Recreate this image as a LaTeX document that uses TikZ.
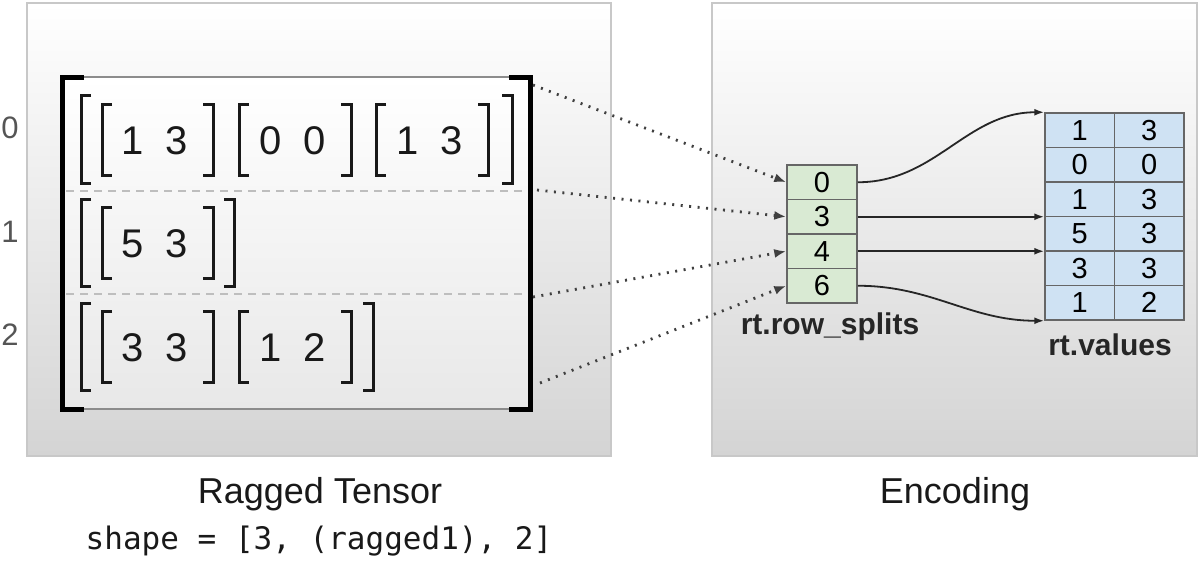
\documentclass[tikz,border=0pt]{standalone}
\usepackage{fontspec}
\setmainfont{Liberation Sans}
\newfontfamily\codefont{DejaVu Sans Mono}
\usetikzlibrary{arrows.meta,calc}
\definecolor{panelborder}{HTML}{C8C8C8}
\definecolor{panelbot}{HTML}{D4D4D4}
\definecolor{innerbot}{HTML}{E8E8E8}
\definecolor{splitfill}{HTML}{D9EAD3}
\definecolor{valfill}{HTML}{CFE2F3}
\definecolor{cellborder}{HTML}{666666}
\definecolor{dashgray}{HTML}{BEBEBE}
\definecolor{labelgray}{HTML}{555555}
\newcommand{\opbr}[3]{\draw[brk] ({#1+10},#2) -- (#1,#2) -- (#1,#3) -- ({#1+10},#3);}
\newcommand{\clbr}[3]{\draw[brk] ({#1-10},#2) -- (#1,#2) -- (#1,#3) -- ({#1-10},#3);}
\begin{document}
\begin{tikzpicture}[x=1pt,y=-1pt,
  panel/.style={draw=panelborder, line width=1.5pt, top color=white, bottom color=panelbot},
  brk/.style={line width=3pt, black!90, line join=miter},
  bigbrk/.style={line width=5pt, black, line join=miter},
  digit/.style={font=\fontsize{40}{42}\selectfont, inner sep=0pt, text=black!90},
  rowlabel/.style={font=\fontsize{31}{33}\selectfont, text=labelgray, inner sep=0pt},
  splitcell/.style={draw=cellborder, line width=1.5pt, fill=splitfill, minimum width=70pt, minimum height=34.5pt, inner sep=0pt, font=\fontsize{29}{30}\selectfont},
  valcell/.style={draw=cellborder, line width=1.5pt, fill=valfill, minimum width=69.5pt, minimum height=34.5pt, inner sep=0pt, font=\fontsize{29}{30}\selectfont},
  dotarrow/.style={draw=black!75, line width=2.8pt, dash pattern=on 2pt off 6.5pt, -{Latex[length=12pt,width=9pt]}},
  solidarrow/.style={draw=black!85, line width=1.8pt, -{Latex[length=10pt,width=7pt]}},
  caption/.style={font=\fontsize{36}{38}\selectfont, text=black!90, inner sep=0pt},
  boldlabel/.style={font=\bfseries\fontsize{30}{32}\selectfont, text=black!85, inner sep=0pt}
]
\useasboundingbox (0,0) rectangle (1200,560);
% panels
\path[panel] (27,3) rectangle (611,456);
\path[panel] (712,3) rectangle (1197,456);
% tensor region
\path[top color=white, bottom color=innerbot] (62,77) rectangle (530,409);
\draw[black!45, line width=1.5pt] (82,77) -- (511,77);
\draw[black!45, line width=1.5pt] (82,409) -- (511,409);
\draw[bigbrk] (84,77) -- (62,77) -- (62,409) -- (84,409);
\draw[bigbrk] (509,77) -- (530,77) -- (530,409) -- (509,409);
% row dividers
\draw[dashgray, line width=2.2pt, dash pattern=on 8pt off 6pt] (66,191) -- (527,191);
\draw[dashgray, line width=2.2pt, dash pattern=on 8pt off 6pt] (66,294) -- (527,294);
% row labels
\node[rowlabel] (r0) at (10,128) {0};
\node[rowlabel] (r1) at (10,232) {1};
\node[rowlabel] (r2) at (10,335) {2};
% row 0
\opbr{81}{95}{183}
\opbr{102}{104}{175} \clbr{213}{104}{175}
\opbr{239}{104}{175} \clbr{351}{104}{175}
\opbr{376}{104}{175} \clbr{488}{104}{175}
\clbr{512}{95}{183}
\node[digit] (a1) at (133,141) {1};
\node[digit] (a2) at (177,141) {3};
\node[digit] (a3) at (271,141) {0};
\node[digit] (a4) at (315,141) {0};
\node[digit] (a5) at (408,141) {1};
\node[digit] (a6) at (452,141) {3};
% row 1
\opbr{81}{199}{286}
\opbr{102}{207}{278} \clbr{213}{207}{278}
\clbr{234}{199}{286}
\node[digit] (b1) at (133,244) {5};
\node[digit] (b2) at (177,244) {3};
% row 2
\opbr{81}{303}{390}
\opbr{102}{311}{382} \clbr{213}{311}{382}
\opbr{239}{311}{382} \clbr{351}{311}{382}
\clbr{373}{303}{390}
\node[digit] (c1) at (133,348) {3};
\node[digit] (c2) at (177,348) {3};
\node[digit] (c3) at (271,348) {1};
\node[digit] (c4) at (315,348) {2};
% row splits
\node[splitcell] (s0) at (822,182.25) {0};
\node[splitcell] (s1) at (822,216.75) {3};
\node[splitcell] (s2) at (822,251.25) {4};
\node[splitcell] (s3) at (822,285.75) {6};
\node[boldlabel] (lsplits) at (830,327) {rt.row\_splits};
% values
\foreach \r/\a/\b in {0/1/3,1/0/0,2/1/3,3/5/3,4/3/3,5/1/2}{
  \node[valcell] (v\r a) at (1079.75,{130.25+34.5*\r}) {\a};
  \node[valcell] (v\r b) at (1149.25,{130.25+34.5*\r}) {\b};
}
\node[boldlabel] (lvals) at (1110,345) {rt.values};
% dotted arrows
\coordinate (d0) at (533,85);
\coordinate (d1) at (537,190);
\coordinate (d2) at (533,297);
\coordinate (d3) at (540,383);
\draw[dotarrow] (d0) -- (s0.west);
\draw[dotarrow] (d1) -- (s1.west);
\draw[dotarrow] (d2) -- (s2.west);
\draw[dotarrow] (d3) -- (s3.west);
% solid arrows
\draw[solidarrow] (s0.east) to[out=0,in=180] (v0a.north west);
\draw[solidarrow] (s1.east) -- (s1.east -| v3a.west);
\draw[solidarrow] (s2.east) -- (s2.east -| v4a.west);
\draw[solidarrow] (s3.east) to[out=0,in=180] (v5a.south west);
% captions
\node[caption] (t1) at (320,494) {Ragged Tensor};
\node[font={\codefont\fontsize{31}{32}\selectfont}, text=black!90, inner sep=0pt] (t2) at (319,541) {shape = [3, (ragged1), 2]};
\node[caption] (t3) at (955,494) {Encoding};
\end{tikzpicture}
\end{document}
